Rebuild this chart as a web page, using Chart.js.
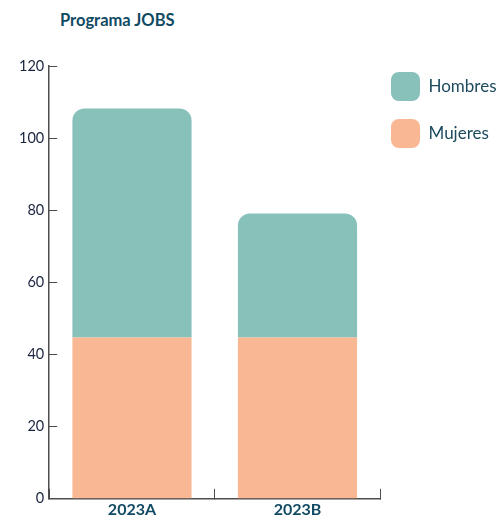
<!DOCTYPE html>
<html>
<head>
<meta charset="utf-8">
<script src="https://cdn.jsdelivr.net/npm/chart.js@4/dist/chart.umd.min.js"></script>
<style>
  html, body { margin: 0; padding: 0; background: #fff; }
  #wrap { position: relative; width: 500px; height: 517px; overflow: hidden; }
  #title {
    position: absolute; left: 60px; top: 10px;
    font-family: Lato, sans-serif; font-weight: bold; font-size: 16.5px;
    color: #114a63;
  }
  canvas { position: absolute; left: 0; top: 0; }
</style>
</head>
<body>
<div id="wrap">
  <div id="title">Programa JOBS</div>
  <canvas id="chart" width="500" height="530"></canvas>
</div>
<script>
// Data
const categories = ['2023A', '2023B'];
const mujeres = [44.7, 44.7];
const hombres = [63.5, 34.4];
const yTicks = [0, 20, 40, 60, 80, 100, 120];

const axisColor = '#4d4d4d';

// move the legend a bit up/left of where the layout puts it
const legendShift = {
  id: 'legendShift',
  afterLayout(chart) {
    const lg = chart.legend;
    if (!lg) return;
    lg.left = 373;
    lg.right = 500;
    lg.top -= 12;
    lg.bottom -= 12;
  }
};

const ctx = document.getElementById('chart');

new Chart(ctx, {
  type: 'bar',
  data: {
    labels: categories,
    datasets: [
      {
        label: 'Mujeres',
        data: mujeres,
        backgroundColor: '#f9b893',
        borderRadius: 0,
        stack: 's'
      },
      {
        label: 'Hombres',
        data: hombres,
        backgroundColor: '#88c1ba',
        borderRadius: { topLeft: 12, topRight: 12, bottomLeft: 0, bottomRight: 0 },
        borderSkipped: false,
        stack: 's'
      }
    ]
  },
  options: {
    responsive: false,
    animation: false,
    layout: { padding: { top: 66, left: 6, right: -5, bottom: 0 } },
    datasets: {
      bar: { categoryPercentage: 0.72, barPercentage: 1.0 }
    },
    plugins: {
      title: { display: false },
      tooltip: { enabled: false },
      legend: {
        position: 'right',
        align: 'start',
        reverse: true,
        labels: {
          boxWidth: 29,
          boxHeight: 29,
          useBorderRadius: true,
          borderRadius: 8,
          padding: 18,
          color: '#1d4a5e',
          font: { family: 'Lato', size: 17 }
        }
      }
    },
    scales: {
      x: {
        stacked: true,
        border: { color: axisColor, width: 1.5 },
        grid: { drawOnChartArea: false, tickLength: -10, color: axisColor, lineWidth: 1 },
        ticks: {
          padding: 11,
          color: '#114a63',
          font: { family: 'Lato', size: 16, weight: 'bold' }
        }
      },
      y: {
        stacked: true,
        min: 0,
        max: 120,
        afterBuildTicks: axis => { axis.ticks = yTicks.map(v => ({ value: v })); },
        border: { color: axisColor, width: 1.5 },
        grid: { drawOnChartArea: false, tickLength: -8, color: axisColor, lineWidth: 1 },
        ticks: {
          padding: 13,
          color: '#1b2440',
          font: { family: 'Lato', size: 14.5 }
        }
      }
    }
  },
  plugins: [legendShift]
});
</script>
</body>
</html>
